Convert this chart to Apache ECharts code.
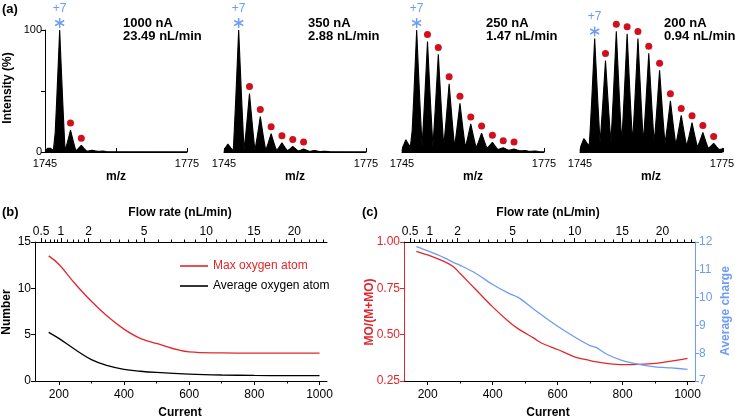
<!DOCTYPE html>
<html><head><meta charset="utf-8">
<script src="https://cdn.jsdelivr.net/npm/echarts@6/dist/echarts.min.js"></script>
<style>html,body{margin:0;padding:0;background:#fff}#c{width:735px;height:419px}</style>
</head><body><div id="c"></div><script>
const FONT = '"Liberation Sans", Arial, Helvetica, sans-serif';
const RED = '#e3262b', DOT = '#d0101c', BLUE = '#6d9cf5';

// ---------- (a) mass spectra ----------
const mzTicks = [1745, 1760, 1775];
const mzLabels = [1745, 1775];
const mainMz = 1748.1;          // +7 ion
const oxStep = 16 / 7;          // m/z shift per oxygen atom at charge +7
const currentsA = ['1000', '350', '250', '200'];
const flowsA = ['23.49', '2.88', '1.47', '0.94'];
// peak heights (%), first entry = peak one step below the +7 ion, second = +7 ion, then +1 O, +2 O ...
const peaks1000 = [4, 100, 18, 5.5, 1.5, 0.8];
const valleys1000 = [0.8, 1.2, 1.0, 0.7, 0.5];
const peaks350 = [6.5, 100, 48, 29, 15, 7.5, 4.5, 2.5, 1.2, 0.6];
const valleys350 = [1.0, 1.5, 1.5, 1.5, 1.2, 1.0, 0.8, 0.6, 0.4];
const peaks250 = [10, 100, 90.5, 80, 56, 40, 23, 15.5, 8, 3.5, 2.5, 1.2, 0.8];
const valleys250 = [3, 5, 5, 5, 4.5, 4, 3.5, 3, 2, 1.5, 1, 0.6];
const peaks200 = [11, 93, 75, 99, 97, 93, 81, 67, 42, 30, 24, 16, 7, 3, 1.5];
const valleys200 = [5, 8, 8, 8, 8, 8, 7.5, 7, 6, 5, 4, 3, 2, 1];
const dotCounts = [2, 6, 9, 11];
const panelPeaks = [peaks1000, peaks350, peaks250, peaks200];
const panelValleys = [valleys1000, valleys350, valleys250, valleys200];
// envelope shape of one peak: [m/z offset from apex, fraction of (height - valley)]
const peakShapeOffsets = [0.3, 0.65, 0.95];
const peakShapeFractions = [0.72, 0.4, 0.15];

// ---------- (b) ----------
const currentB = [169, 200, 250, 300, 350, 400, 450, 500, 600, 700, 800, 900, 1000];
const maxOxygen = [13.5, 12.6, 10.5, 8.6, 6.95, 5.6, 4.6, 4.05, 3.15, 3.03, 3.0, 3.0, 3.0];
const avgOxygen = [5.25, 4.6, 3.4, 2.3, 1.65, 1.25, 1.05, 0.92, 0.75, 0.65, 0.6, 0.58, 0.57];

// ---------- (c) ----------
const currentC = [165, 200, 250, 280, 300, 350, 400, 450, 480, 528, 550, 600, 650, 700, 720, 750, 800, 850, 900, 950, 1000];
const moRatio = [0.95, 0.93, 0.895, 0.865, 0.83, 0.74, 0.65, 0.57, 0.53, 0.48, 0.455, 0.42, 0.382, 0.36, 0.353, 0.345, 0.338, 0.34, 0.345, 0.357, 0.372];
const avgCharge = [11.83, 11.68, 11.44, 11.26, 11.16, 10.86, 10.47, 10.15, 10.0, 9.57, 9.38, 8.97, 8.6, 8.27, 8.2, 7.97, 7.73, 7.6, 7.51, 7.47, 7.42];

// flow-rate axis (top): flow = 23.49 nL/min * (current/1000)^2, from the annotated pairs
const flowMajor = [0.5, 1, 2, 5, 10, 15, 20];
const flowMinor = [0.6, 0.7, 0.8, 0.9, 1.2, 1.4, 1.6, 1.8, 2.5, 3, 3.5, 4, 4.5, 6, 7, 8, 9, 11, 12, 13, 14, 16, 17, 18, 19, 21, 22, 23, 24];
const currentTicks = [200, 400, 600, 800, 1000];
const currentMinor = [300, 500, 700, 900];
const flowToCurrent = f => 1000 * Math.sqrt(f / 23.49);
const majorPos = flowMajor.map(flowToCurrent);
const minorPos = flowMinor.map(flowToCurrent);
const flowLabel = v => { let bi = 0; majorPos.forEach((p, i) => { if (Math.abs(p - v) < Math.abs(majorPos[bi] - v)) bi = i; }); return String(flowMajor[bi]); };

function profile(peaks, valleys) {
  const pts = [[1745, 0.3]];
  peaks.forEach((h, i) => {
    const c = mainMz + (i - 1) * oxStep;
    const vl = i === 0 ? 0.3 : valleys[i - 1];
    const vr = i < peaks.length - 1 ? valleys[i] : 0.2;
    for (let j = peakShapeOffsets.length - 1; j >= 0; j--) {
      const x = c - peakShapeOffsets[j];
      if (x > 1745) pts.push([x, vl + (h - vl) * peakShapeFractions[j]]);
    }
    pts.push([c, h]);
    for (let j = 0; j < peakShapeOffsets.length; j++) pts.push([c + peakShapeOffsets[j], vr + (h - vr) * peakShapeFractions[j]]);
    if (i < peaks.length - 1) pts.push([c + oxStep / 2, vr]);
    else pts.push([c + 1.1, 0.2]);
  });
  pts.push([1775, 0.1]);
  return pts;
}

const chart = echarts.init(document.getElementById('c'), null, { renderer: 'canvas' });
const lefts = [45, 224, 402, 580];
const grids = lefts.map(l => ({ left: l, top: 30, width: 142, height: 122, outerBoundsMode: 'none' }));
grids.push({ left: 35, top: 242, width: 292, height: 139, outerBoundsMode: 'none' });
grids.push({ left: 404, top: 242, width: 291, height: 139, outerBoundsMode: 'none' });

const plain = v => String(v);
const axLine = c => ({ show: true, lineStyle: { color: c, width: 1 } });
const xAxes = [], yAxes = [], series = [];
lefts.forEach((l, i) => {
  xAxes.push({ type: 'value', gridIndex: i, min: 1745, max: 1775, axisLine: axLine('#000'),
    axisTick: { show: true, inside: true, length: 4, customValues: mzTicks, lineStyle: { color: '#000' } },
    axisLabel: { customValues: mzLabels, formatter: plain, color: '#000', fontSize: 11, fontFamily: FONT, margin: 6 },
    splitLine: { show: false } });
  yAxes.push({ type: 'value', gridIndex: i, min: 0, max: 100, show: i === 0, axisLine: axLine('#000'),
    axisTick: { show: true, length: 4, customValues: [0, 50, 100], lineStyle: { color: '#000' } },
    axisLabel: { customValues: [0, 100], formatter: plain, color: '#000', fontSize: 11, fontFamily: FONT, margin: 3 },
    splitLine: { show: false } });
  const pk = panelPeaks[i];
  series.push({ type: 'line', xAxisIndex: i, yAxisIndex: i, data: profile(pk, panelValleys[i]), symbol: 'none',
    lineStyle: { color: '#000', width: 1.1 }, areaStyle: { color: '#000', opacity: 1 }, silent: true });
  const dots = [];
  for (let k = 1; k <= dotCounts[i]; k++) dots.push([mainMz + k * oxStep, pk[k + 1]]);
  series.push({ type: 'scatter', xAxisIndex: i, yAxisIndex: i, data: dots, symbol: 'circle', symbolSize: 7,
    symbolOffset: [0, -7], itemStyle: { color: DOT, opacity: 1 }, silent: true });
  series.push({ type: 'scatter', xAxisIndex: i, yAxisIndex: i, data: [[mainMz, pk[1]]],
    symbol: 'path://M5,0L5,10M0.67,2.5L9.33,7.5M0.67,7.5L9.33,2.5', symbolSize: [9, 10], symbolOffset: [0, -7],
    itemStyle: { color: BLUE, borderColor: BLUE, borderWidth: 1.5, opacity: 1 },
    label: { show: true, formatter: '+7', position: 'top', distance: 3, color: BLUE, fontSize: 12, fontFamily: FONT }, silent: true });
});

// (b) & (c) axes
[4, 5].forEach(g => {
  xAxes.push({ type: 'value', gridIndex: g, position: 'bottom', min: 127, max: 1023, axisLine: axLine('#000'),
    axisTick: { length: 4, customValues: currentTicks, lineStyle: { color: '#000' } },
    axisLabel: { customValues: currentTicks, formatter: plain, color: '#000', fontSize: 12, fontFamily: FONT, margin: 8 },
    splitLine: { show: false } });
  xAxes.push({ type: 'value', gridIndex: g, position: 'bottom', min: 127, max: 1023, axisLine: { show: false },
    axisTick: { length: 2.5, customValues: currentMinor, lineStyle: { color: '#000' } },
    axisLabel: { show: false }, splitLine: { show: false } });
  xAxes.push({ type: 'value', gridIndex: g, position: 'top', min: 127, max: 1023, axisLine: axLine('#000'),
    axisTick: { length: 4, customValues: majorPos, lineStyle: { color: '#000' } },
    axisLabel: { customValues: majorPos, formatter: flowLabel, color: '#000', fontSize: 12, fontFamily: FONT, margin: 4 },
    splitLine: { show: false } });
  xAxes.push({ type: 'value', gridIndex: g, position: 'top', min: 127, max: 1023, axisLine: { show: false },
    axisTick: { length: 2.5, customValues: minorPos, lineStyle: { color: '#000' } },
    axisLabel: { show: false }, splitLine: { show: false } });
});
// xAxis indices: b bottom=4, c bottom=8
yAxes.push({ type: 'value', gridIndex: 4, min: 0, max: 15, interval: 5, axisLine: axLine('#000'),
  axisTick: { show: true, length: 4, lineStyle: { color: '#000' } },
  axisLabel: { color: '#000', fontSize: 12, fontFamily: FONT, margin: 4 }, splitLine: { show: false } });
yAxes.push({ type: 'value', gridIndex: 5, min: 0.25, max: 1, interval: 0.25, position: 'left', axisLine: axLine(RED),
  axisTick: { show: true, length: 4, lineStyle: { color: RED } },
  axisLabel: { color: RED, fontSize: 12, fontFamily: FONT, margin: 4, formatter: v => v.toFixed(2) }, splitLine: { show: false } });
yAxes.push({ type: 'value', gridIndex: 5, min: 7, max: 12, interval: 1, position: 'right', axisLine: axLine(BLUE),
  axisTick: { show: true, length: 4, lineStyle: { color: BLUE } },
  axisLabel: { color: BLUE, fontSize: 12, fontFamily: FONT, margin: 4 }, splitLine: { show: false } });

const zip = (xs, ys) => xs.map((x, i) => [x, ys[i]]);
series.push({ name: 'Max oxygen atom', type: 'line', xAxisIndex: 4, yAxisIndex: 4, data: zip(currentB, maxOxygen),
  smooth: 0.4, symbol: 'none', color: RED, lineStyle: { color: RED, width: 1.3 } });
series.push({ name: 'Average oxygen atom', type: 'line', xAxisIndex: 4, yAxisIndex: 4, data: zip(currentB, avgOxygen),
  smooth: 0.4, symbol: 'none', color: '#000', lineStyle: { color: '#000', width: 1.3 } });
series.push({ name: 'MO/(M+MO)', type: 'line', xAxisIndex: 8, yAxisIndex: 5, data: zip(currentC, moRatio),
  smooth: 0.3, symbol: 'none', color: RED, lineStyle: { color: RED, width: 1.3 } });
series.push({ name: 'Average charge', type: 'line', xAxisIndex: 8, yAxisIndex: 6, data: zip(currentC, avgCharge),
  smooth: 0.3, symbol: 'none', color: BLUE, lineStyle: { color: BLUE, width: 1.3 } });

const bold = s => `bold ${s}px ${FONT}`;
const txt = (text, x, y, opts = {}) => ({ type: 'text', x, y, rotation: opts.rot || 0, silent: true,
  style: { text, fill: opts.color || '#000', font: opts.font || bold(12), align: opts.align || 'center', verticalAlign: 'middle' } });
const graphics = [
  txt('(a)', 2, 9, { align: 'left', font: bold(13) }),
  txt('(b)', 2, 212, { align: 'left', font: bold(13) }),
  txt('(c)', 362, 212, { align: 'left', font: bold(13) }),
  txt('Intensity (%)', 8, 88, { rot: Math.PI / 2 }),
  txt('Number', 7, 312, { rot: Math.PI / 2 }),
  txt('MO/(M+MO)', 370, 312, { rot: Math.PI / 2, color: RED }),
  txt('Average charge', 726, 311, { rot: Math.PI / 2, color: BLUE }),
  txt('Flow rate (nL/min)', 180, 213),
  txt('Flow rate (nL/min)', 548, 213),
  txt('Current', 180, 413),
  txt('Current', 548, 413),
];
const textX = [123, 308, 486, 664];
lefts.forEach((l, i) => {
  graphics.push(txt('m/z', l + 71, 177));
  graphics.push(txt(currentsA[i] + ' nA', textX[i], 23.5, { align: 'left', font: bold(13) }));
  graphics.push(txt(flowsA[i] + ' nL/min', textX[i], 36.5, { align: 'left', font: bold(13) }));
});

chart.setOption({
  animation: false,
  backgroundColor: '#fff',
  textStyle: { fontFamily: FONT },
  grid: grids, xAxis: xAxes, yAxis: yAxes, series,
  legend: { left: 180, top: 260, orient: 'vertical', icon: 'rect', itemWidth: 28, itemHeight: 1.6, itemGap: 8, padding: 0,
    data: [{ name: 'Max oxygen atom', textStyle: { color: RED } }, { name: 'Average oxygen atom', textStyle: { color: '#000' } }],
    textStyle: { fontSize: 12, fontFamily: FONT }, selectedMode: false },
  graphic: graphics
});
</script></body></html>
